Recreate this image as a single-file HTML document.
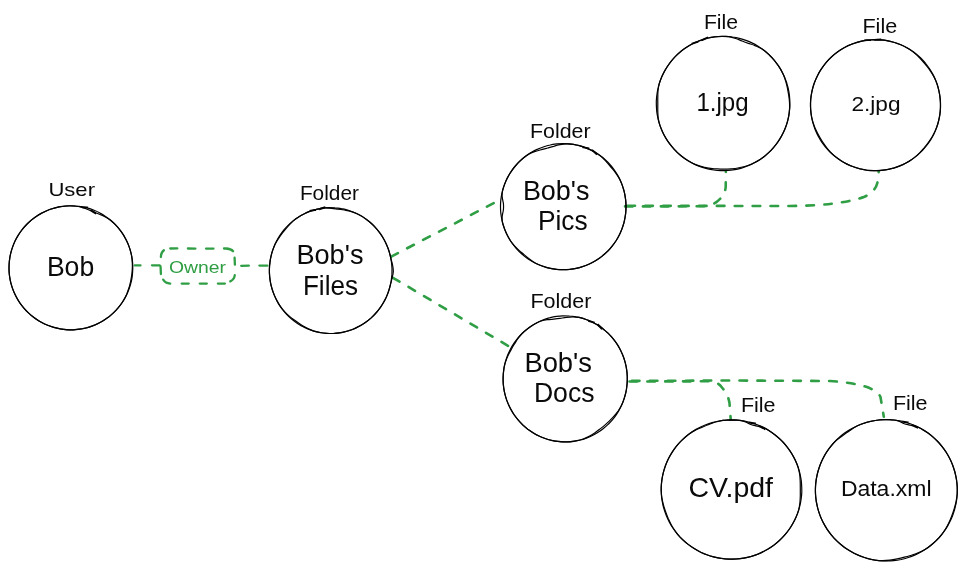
<!DOCTYPE html>
<html lang="en">
<head>
<meta charset="utf-8">
<title>Bob's Files graph</title>
<style>
  html, body { margin: 0; padding: 0; background: #ffffff; }
  body { width: 967px; height: 570px; overflow: hidden; }
  svg { display: block; will-change: transform; }
  text { font-family: "Liberation Sans", sans-serif; fill: #0a0a0a; }
  .node ellipse, .node path { fill: none; stroke: #000000; stroke-width: 1.2; }
  .edge { fill: none; stroke: #2f9e44; stroke-width: 2.6; stroke-dasharray: 7.6 10.4; stroke-linecap: round; stroke-linejoin: round; }
  text.owner { fill: #2f9e44; }
</style>
</head>
<body>
<svg width="967" height="570" viewBox="0 0 967 570">
  <rect x="0" y="0" width="967" height="570" fill="#ffffff"/>
  <g class="edge">
    <g stroke-dasharray="none" stroke-width="2.3">
      <path d="M134.9 265.4 L140.5 265.4"/>
      <path d="M152 265.3 L159.6 265.3 Q160.6 265.6 160.6 267 L160.9 274"/>
      <path d="M241.2 265.8 L248.8 265.7"/>
      <path d="M259.4 265.6 L267.5 265.6"/>
      <path d="M170.3 248.5 L177.3 248.4"/>
      <path d="M187.9 248.5 L195.4 248.6"/>
      <path d="M206 248.6 L213.5 248.6"/>
      <path d="M224 248.5 L226 248.5 Q231 248.7 233.1 251.2"/>
      <path d="M234.6 257.7 L234.9 264.7"/>
      <path d="M234.8 275.2 Q234.2 279.6 230.3 281.4"/>
      <path d="M224.9 283.6 L217.9 283.6"/>
      <path d="M206.8 283.6 L199.8 283.6"/>
      <path d="M188.7 283.6 L181.7 283.6"/>
      <path d="M170.2 283.6 Q165.4 283.2 163.2 279.6"/>
      <path d="M160.9 257 Q161 252.4 163.9 250.3"/>
    </g>
    <path d="M391.2 256.6 L495.4 202.2"/>
    <path d="M393 277.8 L508 345.8"/>
    <path d="M625 206.4 L702 206.3 Q712 206 717.5 201.2 Q725 195.5 725.7 187 L725.9 171.6" stroke-dasharray="7.6 10.31"/>
    <path d="M625 205.8 L790 206 C820 205.8 848 203 864.5 196.7 C872 193.5 877 188 877.9 180 L878.7 171.6" stroke-dashoffset="-2.4" stroke-dasharray="7.6 10.29"/>
    <path d="M629.5 381.5 L711 381.3 Q718.5 382.2 722 387.6 Q728 394 729.5 403 L730.7 419.4" stroke-dasharray="7.6 10.24"/>
    <path d="M629.5 380.9 L730 380.5 L830 381 Q875 384 880.5 397 L883.8 416.8" stroke-dashoffset="-2.4" stroke-dasharray="7.6 10.33"/>
  </g>
  <g class="node">
    <path d="M81.5 207.5 C82.6 207.6 85.9 207.7 88.0 208.2 C90.1 208.7 92.1 209.5 94.1 210.3 C96.1 211.1 98.1 212.0 100.0 213.1 C101.9 214.1 103.7 215.2 105.5 216.4 C107.3 217.6 109.0 218.9 110.7 220.3 C112.3 221.7 113.9 223.2 115.4 224.7 C116.9 226.3 118.4 227.9 119.7 229.6 C121.0 231.3 122.3 233.1 123.4 234.9 C124.5 236.8 125.6 238.7 126.5 240.6 C127.5 242.6 128.3 244.6 129.1 246.6 C129.8 248.6 130.4 250.7 131.0 252.8 C131.5 254.9 131.9 257.0 132.2 259.2 C132.5 261.3 132.7 263.5 132.8 265.6 C132.8 267.8 132.8 270.0 132.6 272.1 C132.5 274.3 132.2 276.4 131.9 278.6 C131.5 280.7 131.0 282.8 130.4 284.9 C129.8 287.0 129.1 289.0 128.3 291.0 C127.5 293.0 126.6 295.0 125.6 296.9 C124.5 298.8 123.4 300.7 122.2 302.5 C121.0 304.3 119.7 306.0 118.3 307.7 C116.9 309.3 115.5 310.9 113.9 312.4 C112.3 313.9 110.7 315.3 109.0 316.7 C107.3 318.0 105.5 319.2 103.7 320.4 C101.9 321.5 100.0 322.6 98.0 323.5 C96.1 324.5 94.1 325.3 92.1 326.1 C90.0 326.8 88.0 327.4 85.9 328.0 C83.8 328.5 81.7 328.9 79.5 329.2 C77.4 329.5 75.2 329.7 73.1 329.8 C70.9 329.8 68.7 329.8 66.6 329.6 C64.4 329.5 62.3 329.2 60.2 328.9 C58.0 328.5 55.9 328.0 53.8 327.4 C51.8 326.8 49.7 326.1 47.7 325.3 C45.7 324.5 43.7 323.6 41.8 322.5 C39.9 321.5 38.1 320.4 36.3 319.2 C34.5 318.0 32.8 316.7 31.1 315.3 C29.5 313.9 27.9 312.4 26.4 310.9 C24.9 309.3 23.4 307.7 22.1 306.0 C20.8 304.3 19.5 302.5 18.4 300.7 C17.3 298.8 16.2 296.9 15.3 295.0 C14.3 293.0 13.5 291.0 12.7 289.0 C12.0 287.0 11.4 284.9 10.8 282.8 C10.3 280.7 9.9 278.6 9.6 276.4 C9.3 274.3 9.1 272.1 9.0 270.0 C9.0 267.8 9.0 265.6 9.2 263.5 C9.3 261.3 9.6 259.2 9.9 257.0 C10.3 254.9 10.8 252.8 11.4 250.7 C12.0 248.6 12.7 246.6 13.5 244.6 C14.3 242.6 15.2 240.6 16.2 238.7 C17.3 236.8 18.4 234.9 19.6 233.1 C20.8 231.3 22.1 229.6 23.5 227.9 C24.9 226.3 26.3 224.7 27.9 223.2 C29.5 221.7 31.1 220.3 32.8 218.9 C34.5 217.6 36.3 216.4 38.1 215.2 C39.9 214.1 41.8 213.0 43.8 212.1 C45.7 211.1 47.7 210.3 49.7 209.5 C51.8 208.8 53.8 208.2 55.9 207.6 C58.0 207.1 60.1 206.7 62.3 206.4 C64.4 206.1 66.6 205.9 68.7 205.8 C70.9 205.8 73.1 205.8 75.2 206.0 C77.4 206.1 79.5 206.5 81.6 206.7 C83.8 207.0 87.1 207.2 88.2 207.3"/>
    <path d="M90.8 209.8 C91.8 210.3 94.5 212.0 96.4 213.0 C98.3 213.9 100.4 214.5 102.3 215.4 C104.2 216.4 106.2 217.3 108.0 218.5 C109.8 219.6 111.5 221.0 113.1 222.5 C114.7 223.9 116.2 225.5 117.6 227.1 C119.0 228.8 120.4 230.5 121.6 232.2 C122.8 234.0 124.0 235.9 125.0 237.7 C126.1 239.6 127.0 241.6 127.9 243.6 C128.7 245.6 129.5 247.6 130.1 249.7 C130.7 251.7 131.2 253.9 131.6 256.0 C132.0 258.1 132.2 260.3 132.3 262.4 C132.4 264.6 132.4 266.7 132.3 268.9 C132.2 271.0 132.0 273.2 131.7 275.3 C131.4 277.4 131.0 279.5 130.6 281.6 C130.1 283.7 129.6 285.8 129.0 287.8 C128.3 289.9 127.6 291.9 126.8 293.9 C125.9 295.9 125.0 297.8 123.9 299.7 C122.8 301.6 121.6 303.4 120.3 305.1 C119.0 306.8 117.6 308.5 116.2 310.1 C114.7 311.7 113.1 313.2 111.5 314.6 C109.9 316.0 108.2 317.3 106.4 318.6 C104.6 319.8 102.8 321.0 100.9 322.0 C99.0 323.1 97.1 324.0 95.1 324.9 C93.1 325.7 91.1 326.5 89.0 327.1 C86.9 327.7 84.8 328.2 82.7 328.7 C80.6 329.1 78.4 329.4 76.3 329.6 C74.1 329.8 72.0 329.8 69.8 329.8 C67.7 329.8 65.5 329.6 63.4 329.3 C61.2 329.1 59.1 328.7 57.0 328.2 C54.9 327.7 52.8 327.1 50.7 326.4 C48.7 325.7 46.7 324.9 44.7 324.0 C42.8 323.1 40.9 322.1 39.0 320.9 C37.2 319.8 35.4 318.6 33.6 317.3 C31.9 316.0 30.3 314.6 28.7 313.1 C27.1 311.7 25.6 310.1 24.2 308.5 C22.8 306.8 21.4 305.1 20.2 303.4 C19.0 301.6 17.8 299.7 16.8 297.9 C15.7 296.0 14.8 294.0 13.9 292.0 C13.1 290.0 12.3 288.0 11.7 285.9 C11.1 283.9 10.5 281.8 10.1 279.6 C9.7 277.5 9.4 275.4 9.2 273.2 C9.0 271.1 9.0 268.9 9.0 266.7 C9.0 264.6 9.2 262.4 9.5 260.2 C9.7 258.1 10.1 256.0 10.6 253.9 C11.1 251.7 11.7 249.7 12.4 247.6 C13.1 245.6 13.9 243.6 14.8 241.6 C15.7 239.6 16.7 237.7 17.8 235.9 C19.0 234.0 20.2 232.2 21.5 230.5 C22.8 228.8 24.2 227.1 25.6 225.5 C27.1 223.9 28.7 222.4 30.3 221.0 C31.9 219.6 33.6 218.3 35.4 217.0 C37.2 215.8 39.0 214.6 40.9 213.6 C42.8 212.5 44.7 211.6 46.7 210.7 C48.7 209.9 50.7 209.1 52.8 208.5 C54.9 207.9 57.0 207.4 59.1 206.9 C61.2 206.5 63.4 206.2 65.5 206.0 C67.7 205.8 69.8 205.7 72.0 205.8 C74.1 205.9 76.3 206.1 78.4 206.5 C80.5 206.9 82.6 207.6 84.6 208.3 C86.6 209.0 88.7 209.7 90.6 210.6 C92.5 211.6 95.1 213.4 96.0 214.0"/>
    <path d="M309.5 210.7 C310.6 210.5 313.8 209.9 315.9 209.5 C318.0 209.1 320.1 208.5 322.2 208.2 C324.3 207.9 326.4 207.7 328.6 207.6 C330.7 207.6 332.8 207.6 335.0 207.8 C337.1 207.9 339.2 208.2 341.3 208.6 C343.4 208.9 345.5 209.4 347.6 210.0 C349.6 210.6 351.7 211.4 353.7 212.2 C355.6 213.0 357.6 213.9 359.5 215.0 C361.4 216.0 363.2 217.1 365.0 218.4 C366.7 219.6 368.5 220.9 370.1 222.3 C371.7 223.7 373.3 225.2 374.8 226.8 C376.3 228.4 377.7 230.1 379.0 231.8 C380.3 233.5 381.6 235.3 382.7 237.2 C383.8 239.1 384.9 241.0 385.8 243.0 C386.7 244.9 387.6 247.0 388.3 249.0 C389.0 251.1 389.7 253.2 390.2 255.3 C390.7 257.4 391.1 259.6 391.4 261.8 C391.7 264.0 391.9 266.2 392.0 268.4 C392.0 270.5 392.0 272.8 391.9 274.9 C391.7 277.1 391.4 279.3 391.1 281.5 C390.7 283.6 390.2 285.8 389.6 287.9 C389.0 290.0 388.3 292.1 387.5 294.1 C386.7 296.2 385.8 298.2 384.8 300.1 C383.8 302.0 382.7 303.9 381.5 305.8 C380.3 307.6 379.0 309.3 377.7 311.0 C376.3 312.7 374.8 314.3 373.3 315.8 C371.7 317.4 370.1 318.8 368.4 320.2 C366.8 321.5 365.0 322.8 363.2 323.9 C361.4 325.1 359.5 326.2 357.6 327.1 C355.7 328.1 353.7 329.0 351.7 329.7 C349.7 330.5 347.6 331.1 345.5 331.6 C343.5 332.2 341.3 332.6 339.2 332.9 C337.1 333.2 335.0 333.4 332.8 333.5 C330.7 333.5 328.6 333.5 326.4 333.3 C324.3 333.2 322.2 332.9 320.1 332.5 C318.0 332.2 315.9 331.7 313.8 331.1 C311.8 330.5 309.7 329.7 307.7 328.9 C305.8 328.1 303.8 327.2 301.9 326.1 C300.0 325.1 298.2 324.0 296.4 322.7 C294.7 321.5 292.9 320.2 291.3 318.8 C289.7 317.4 288.1 315.9 286.6 314.3 C285.1 312.7 283.7 311.0 282.4 309.3 C281.1 307.6 279.8 305.8 278.7 303.9 C277.6 302.0 276.5 300.1 275.6 298.1 C274.7 296.2 273.8 294.1 273.1 292.1 C272.4 290.0 271.7 287.9 271.2 285.8 C270.7 283.7 270.3 281.5 270.0 279.3 C269.7 277.1 269.5 274.9 269.4 272.7 C269.4 270.6 269.4 268.3 269.5 266.2 C269.7 264.0 270.0 261.8 270.3 259.6 C270.7 257.5 271.2 255.3 271.8 253.2 C272.4 251.1 273.1 249.0 273.9 247.0 C274.7 244.9 275.6 242.9 276.6 241.0 C277.6 239.1 278.7 237.2 279.9 235.3 C281.1 233.5 282.4 231.8 283.7 230.1 C285.1 228.4 286.6 226.8 288.1 225.3 C289.7 223.7 291.3 222.3 293.0 220.9 C294.6 219.6 296.4 218.3 298.2 217.2 C300.0 216.0 301.9 214.9 303.8 214.0 C305.7 213.0 307.7 212.0 309.7 211.4 C311.8 210.8 315.0 210.5 316.1 210.3"/>
    <path d="M319.2 209.6 C320.2 209.3 323.3 208.2 325.4 207.9 C327.5 207.7 329.6 208.1 331.8 208.3 C333.9 208.5 335.9 208.9 338.0 209.2 C340.1 209.4 342.2 209.7 344.3 210.0 C346.4 210.4 348.5 210.7 350.6 211.3 C352.6 211.8 354.7 212.6 356.6 213.5 C358.6 214.4 360.4 215.5 362.3 216.6 C364.1 217.7 365.9 219.0 367.6 220.3 C369.3 221.6 370.9 223.0 372.5 224.5 C374.1 226.0 375.6 227.6 377.0 229.3 C378.4 230.9 379.7 232.6 380.9 234.4 C382.1 236.2 383.3 238.1 384.3 240.0 C385.3 241.9 386.3 243.9 387.1 246.0 C388.0 248.0 388.7 250.0 389.3 252.1 C389.9 254.2 390.4 256.4 390.9 258.5 C391.4 260.7 392.2 262.8 392.6 265.0 C393.0 267.2 393.4 269.5 393.3 271.7 C393.2 273.9 392.5 276.1 392.0 278.3 C391.5 280.5 391.0 282.6 390.4 284.7 C389.9 286.8 389.4 289.0 388.7 291.0 C388.0 293.1 387.2 295.2 386.3 297.2 C385.4 299.1 384.3 301.1 383.2 303.0 C382.1 304.9 380.9 306.7 379.7 308.4 C378.4 310.2 377.0 311.9 375.5 313.5 C374.1 315.1 372.5 316.6 370.9 318.1 C369.3 319.5 367.6 320.9 365.9 322.1 C364.1 323.4 362.3 324.5 360.4 325.6 C358.6 326.7 356.6 327.6 354.7 328.5 C352.7 329.4 350.7 330.1 348.6 330.7 C346.6 331.4 344.5 331.9 342.4 332.3 C340.3 332.8 338.2 333.1 336.0 333.3 C333.9 333.5 331.8 333.5 329.6 333.5 C327.5 333.5 325.3 333.3 323.2 333.0 C321.1 332.8 319.0 332.4 316.9 331.9 C314.8 331.4 312.8 330.7 310.8 329.9 C308.8 329.1 306.9 328.2 305.0 327.1 C303.1 326.1 301.3 325.0 299.6 323.8 C297.8 322.6 296.0 321.4 294.3 320.1 C292.6 318.8 290.9 317.5 289.3 316.1 C287.7 314.7 286.1 313.3 284.6 311.7 C283.2 310.1 281.8 308.4 280.5 306.6 C279.2 304.9 278.1 303.0 277.1 301.1 C276.0 299.2 275.1 297.2 274.3 295.1 C273.4 293.1 272.7 291.1 272.1 289.0 C271.5 286.9 270.9 284.7 270.5 282.6 C270.1 280.4 269.8 278.2 269.6 276.0 C269.4 273.9 269.4 271.6 269.4 269.5 C269.4 267.3 269.6 265.1 269.9 262.9 C270.1 260.7 270.5 258.5 271.0 256.4 C271.5 254.3 272.0 252.1 272.7 250.1 C273.5 248.0 274.3 245.9 275.2 244.0 C276.2 242.0 277.4 240.2 278.6 238.4 C279.7 236.6 281.0 234.8 282.3 233.1 C283.7 231.4 285.0 229.8 286.4 228.1 C287.8 226.5 289.3 224.9 290.8 223.4 C292.3 221.9 293.9 220.4 295.6 219.1 C297.3 217.8 299.1 216.6 301.0 215.5 C302.8 214.4 304.8 213.5 306.7 212.6 C308.7 211.7 310.7 211.0 312.8 210.4 C314.8 209.7 316.9 209.3 319.0 208.8 C321.1 208.2 324.2 207.2 325.3 206.9"/>
    <path d="M582.4 147.4 C583.5 147.7 586.7 148.3 588.8 149.1 C590.8 149.8 592.7 150.9 594.6 152.0 C596.5 153.1 598.4 154.4 600.1 155.6 C601.9 156.9 603.6 158.3 605.2 159.8 C606.9 161.3 608.4 162.8 609.9 164.5 C611.3 166.1 612.7 167.8 614.0 169.6 C615.3 171.4 616.5 173.2 617.6 175.1 C618.7 177.0 619.7 179.0 620.6 181.0 C621.5 183.0 622.3 185.1 622.9 187.2 C623.6 189.3 624.2 191.4 624.6 193.5 C625.1 195.7 625.4 197.9 625.7 200.1 C625.9 202.2 626.0 204.5 626.0 206.6 C626.0 208.8 625.9 211.1 625.7 213.2 C625.4 215.4 625.1 217.6 624.6 219.8 C624.2 221.9 623.6 224.0 622.9 226.1 C622.3 228.2 621.5 230.3 620.6 232.3 C619.7 234.3 618.7 236.3 617.6 238.2 C616.5 240.1 615.3 241.9 614.0 243.7 C612.7 245.5 611.3 247.2 609.9 248.8 C608.4 250.5 606.9 252.0 605.2 253.5 C603.6 255.0 601.9 256.4 600.1 257.7 C598.4 258.9 596.5 260.2 594.6 261.3 C592.7 262.4 590.8 263.4 588.8 264.2 C586.8 265.1 584.7 265.9 582.6 266.6 C580.6 267.3 578.4 267.9 576.3 268.3 C574.2 268.8 572.0 269.1 569.8 269.4 C567.6 269.6 565.4 269.7 563.2 269.7 C561.1 269.7 558.9 269.6 556.7 269.4 C554.5 269.1 552.3 268.8 550.2 268.3 C548.1 267.9 545.9 267.3 543.9 266.6 C541.8 265.9 539.7 265.1 537.7 264.2 C535.7 263.4 533.8 262.4 531.9 261.3 C530.0 260.2 528.1 258.9 526.4 257.7 C524.6 256.4 522.9 255.0 521.3 253.5 C519.6 252.0 518.1 250.5 516.6 248.8 C515.2 247.2 513.8 245.5 512.5 243.7 C511.2 241.9 510.0 240.1 508.9 238.2 C507.8 236.3 506.8 234.3 505.9 232.3 C505.0 230.3 504.2 228.2 503.6 226.1 C502.9 224.0 502.3 221.9 501.9 219.8 C501.4 217.6 501.1 215.4 500.8 213.2 C500.6 211.1 500.5 208.8 500.5 206.6 C500.5 204.5 500.6 202.2 500.8 200.1 C501.1 197.9 501.4 195.7 501.9 193.5 C502.3 191.4 502.9 189.3 503.6 187.2 C504.2 185.1 505.0 183.0 505.9 181.0 C506.8 179.0 507.8 177.0 508.9 175.1 C510.0 173.2 511.2 171.4 512.5 169.6 C513.8 167.8 515.2 166.1 516.6 164.5 C518.1 162.8 519.6 161.3 521.3 159.8 C522.9 158.3 524.6 156.9 526.4 155.6 C528.1 154.4 530.0 153.1 531.9 152.0 C533.8 150.9 535.7 149.9 537.7 149.1 C539.7 148.2 541.8 147.4 543.9 146.7 C545.9 146.0 548.1 145.4 550.2 145.0 C552.3 144.5 554.5 144.2 556.7 143.9 C558.9 143.7 561.1 143.6 563.2 143.6 C565.4 143.6 567.6 143.7 569.8 143.9 C572.0 144.2 574.2 144.5 576.3 145.0 C578.4 145.4 580.5 146.2 582.6 146.7 C584.8 147.2 588.1 147.9 589.2 148.2"/>
    <path d="M592.2 149.6 C593.0 150.3 595.7 152.4 597.4 153.8 C599.2 155.1 601.0 156.3 602.6 157.8 C604.2 159.3 605.7 160.9 607.1 162.6 C608.6 164.2 609.9 165.9 611.3 167.5 C612.7 169.2 614.1 170.8 615.4 172.6 C616.7 174.4 618.0 176.2 619.1 178.1 C620.2 180.0 621.0 182.0 621.8 184.1 C622.6 186.1 623.3 188.2 623.9 190.3 C624.4 192.5 624.9 194.6 625.2 196.8 C625.6 199.0 625.8 201.2 625.9 203.4 C626.0 205.5 626.0 207.8 625.9 209.9 C625.8 212.1 625.6 214.3 625.2 216.5 C624.9 218.7 624.4 220.8 623.9 223.0 C623.3 225.1 622.6 227.2 621.8 229.2 C621.0 231.3 620.2 233.3 619.2 235.3 C618.2 237.2 617.1 239.1 615.9 241.0 C614.7 242.8 613.4 244.6 612.0 246.3 C610.6 248.0 609.2 249.7 607.6 251.2 C606.1 252.8 604.4 254.3 602.7 255.6 C601.0 257.0 599.3 258.3 597.4 259.5 C595.6 260.7 593.7 261.8 591.7 262.8 C589.8 263.8 587.8 264.7 585.7 265.5 C583.7 266.3 581.6 267.0 579.5 267.6 C577.4 268.1 575.2 268.6 573.1 268.9 C570.9 269.3 568.7 269.5 566.5 269.6 C564.4 269.7 562.1 269.7 560.0 269.6 C557.8 269.5 555.6 269.3 553.4 268.9 C551.3 268.6 549.1 268.1 547.0 267.6 C544.9 267.0 542.8 266.3 540.8 265.5 C538.7 264.7 536.7 263.8 534.8 262.8 C532.9 261.7 531.1 260.3 529.4 259.0 C527.7 257.7 526.0 256.3 524.4 254.9 C522.7 253.5 521.1 252.1 519.4 250.7 C517.8 249.2 516.1 247.8 514.7 246.2 C513.2 244.6 511.8 242.8 510.6 241.0 C509.4 239.2 508.3 237.2 507.3 235.3 C506.3 233.3 505.5 231.3 504.7 229.2 C503.9 227.2 503.1 225.1 502.6 223.0 C502.2 220.8 502.0 218.6 502.2 216.4 C502.3 214.2 503.2 211.9 503.4 209.8 C503.6 207.7 503.6 205.6 503.4 203.5 C503.2 201.4 502.3 199.1 502.2 196.9 C502.0 194.7 502.2 192.5 502.6 190.3 C503.1 188.2 503.9 186.1 504.7 184.1 C505.5 182.0 506.3 180.0 507.3 178.0 C508.3 176.1 509.4 174.2 510.6 172.3 C511.8 170.5 513.1 168.7 514.5 167.0 C515.9 165.3 517.3 163.6 518.9 162.1 C520.4 160.5 522.0 159.0 523.8 157.7 C525.5 156.3 527.3 155.0 529.2 153.9 C531.1 152.9 533.2 152.1 535.2 151.4 C537.3 150.6 539.4 150.1 541.4 149.6 C543.5 149.0 545.6 148.5 547.6 148.0 C549.7 147.4 551.7 146.8 553.7 146.3 C555.8 145.7 557.9 145.1 560.0 144.7 C562.1 144.3 564.3 143.9 566.5 143.9 C568.7 143.8 570.9 144.1 573.1 144.4 C575.2 144.7 577.4 145.2 579.5 145.7 C581.6 146.3 583.7 147.0 585.7 147.8 C587.8 148.6 589.9 149.3 591.7 150.5 C593.6 151.6 595.9 154.0 596.8 154.8"/>
    <path d="M588.2 321.1 C589.2 321.5 592.4 322.3 594.4 323.2 C596.3 324.1 598.1 325.4 599.9 326.6 C601.7 327.8 603.5 329.1 605.1 330.6 C606.8 332.0 608.4 333.5 609.9 335.1 C611.4 336.6 612.8 338.3 614.1 340.0 C615.5 341.8 616.7 343.6 617.9 345.4 C619.0 347.3 620.1 349.2 621.0 351.2 C622.0 353.2 622.8 355.2 623.6 357.3 C624.3 359.3 624.9 361.5 625.5 363.6 C626.0 365.7 626.4 367.9 626.7 370.1 C627.0 372.3 627.2 374.5 627.3 376.6 C627.3 378.8 627.3 381.1 627.1 383.2 C627.0 385.4 626.7 387.6 626.4 389.8 C626.0 392.0 625.5 394.1 624.9 396.2 C624.3 398.3 623.6 400.4 622.8 402.5 C622.0 404.5 621.0 406.5 620.0 408.5 C619.0 410.4 617.9 412.3 616.7 414.1 C615.5 415.9 614.2 417.7 612.8 419.4 C611.4 421.1 609.9 422.7 608.3 424.2 C606.8 425.7 605.1 427.2 603.4 428.5 C601.7 429.9 599.9 431.2 598.1 432.3 C596.3 433.5 594.4 434.6 592.4 435.5 C590.5 436.5 588.5 437.3 586.4 438.1 C584.4 438.8 582.3 439.5 580.2 440.0 C578.1 440.6 576.0 441.0 573.8 441.3 C571.7 441.6 569.5 441.8 567.4 441.9 C565.2 441.9 563.0 441.9 560.9 441.7 C558.7 441.6 556.5 441.3 554.4 440.9 C552.3 440.6 550.2 440.1 548.1 439.5 C546.0 438.9 543.9 438.1 541.9 437.3 C539.9 436.5 538.0 435.6 536.0 434.5 C534.1 433.5 532.3 432.3 530.5 431.1 C528.7 429.9 526.9 428.6 525.3 427.1 C523.6 425.7 522.0 424.2 520.5 422.6 C519.0 421.1 517.6 419.4 516.3 417.7 C514.9 415.9 513.7 414.1 512.5 412.3 C511.4 410.4 510.3 408.5 509.4 406.5 C508.4 404.5 507.6 402.5 506.8 400.4 C506.1 398.4 505.5 396.2 504.9 394.1 C504.4 392.0 504.0 389.8 503.7 387.6 C503.4 385.4 503.2 383.2 503.1 381.1 C503.1 378.9 503.1 376.6 503.3 374.5 C503.4 372.3 503.7 370.1 504.0 367.9 C504.4 365.7 504.9 363.6 505.5 361.5 C506.1 359.4 506.8 357.3 507.6 355.2 C508.4 353.2 509.4 351.2 510.4 349.2 C511.4 347.3 512.5 345.4 513.7 343.6 C514.9 341.8 516.2 340.0 517.6 338.3 C519.0 336.6 520.5 335.0 522.1 333.5 C523.6 332.0 525.3 330.5 527.0 329.2 C528.7 327.8 530.5 326.5 532.3 325.4 C534.1 324.2 536.0 323.1 538.0 322.2 C539.9 321.2 541.9 320.4 544.0 319.6 C546.0 318.9 548.1 318.2 550.2 317.7 C552.3 317.1 554.4 316.7 556.6 316.4 C558.7 316.1 560.9 315.9 563.0 315.8 C565.2 315.8 567.4 315.8 569.5 316.0 C571.7 316.1 573.9 316.4 576.0 316.8 C578.1 317.1 580.2 317.6 582.3 318.2 C584.4 318.8 586.4 319.7 588.5 320.4 C590.5 321.1 593.8 322.0 594.8 322.3"/>
    <path d="M597.7 324.0 C598.5 324.8 600.9 327.0 602.6 328.5 C604.2 330.0 606.0 331.2 607.6 332.7 C609.1 334.2 610.6 335.8 612.1 337.5 C613.5 339.1 614.8 340.9 616.1 342.7 C617.3 344.5 618.5 346.4 619.5 348.3 C620.6 350.2 621.5 352.2 622.4 354.2 C623.2 356.2 624.0 358.3 624.6 360.4 C625.2 362.5 625.7 364.7 626.2 366.8 C626.6 369.0 626.9 371.2 627.1 373.4 C627.3 375.5 627.3 377.8 627.3 380.0 C627.3 382.1 627.1 384.4 626.8 386.5 C626.6 388.7 626.2 390.9 625.7 393.0 C625.2 395.2 624.6 397.3 623.9 399.4 C623.2 401.5 622.4 403.5 621.4 405.5 C620.5 407.4 619.3 409.3 618.1 411.1 C616.8 412.9 615.4 414.6 614.0 416.2 C612.6 417.8 611.0 419.3 609.5 420.8 C608.0 422.3 606.4 423.7 604.8 425.1 C603.2 426.5 601.5 427.8 599.9 429.1 C598.2 430.4 596.5 431.7 594.7 432.9 C593.0 434.1 591.1 435.3 589.2 436.3 C587.3 437.3 585.3 438.3 583.3 439.0 C581.3 439.7 579.2 440.3 577.0 440.7 C574.9 441.2 572.8 441.5 570.6 441.7 C568.5 441.9 566.3 441.9 564.1 441.9 C562.0 441.9 559.8 441.7 557.6 441.4 C555.5 441.2 553.3 440.8 551.2 440.3 C549.1 439.8 547.0 439.2 545.0 438.5 C542.9 437.7 540.9 436.9 539.0 436.0 C537.0 435.1 535.1 434.0 533.2 432.9 C531.4 431.8 529.6 430.5 527.8 429.2 C526.1 427.9 524.4 426.5 522.8 425.0 C521.3 423.5 519.8 421.9 518.3 420.2 C516.9 418.6 515.6 416.8 514.3 415.0 C513.1 413.2 511.9 411.3 510.9 409.4 C509.8 407.5 508.9 405.5 508.0 403.5 C507.2 401.5 506.4 399.4 505.8 397.3 C505.2 395.2 504.7 393.0 504.2 390.9 C503.8 388.7 503.5 386.5 503.3 384.3 C503.1 382.2 503.1 379.9 503.1 377.7 C503.1 375.6 503.3 373.3 503.6 371.2 C503.8 369.0 504.2 366.8 504.7 364.7 C505.2 362.5 505.9 360.4 506.8 358.4 C507.6 356.4 508.6 354.4 509.6 352.5 C510.6 350.6 511.7 348.7 512.7 346.8 C513.8 345.0 514.9 343.1 516.1 341.3 C517.3 339.5 518.5 337.6 519.9 336.0 C521.3 334.3 522.8 332.7 524.5 331.3 C526.1 329.8 527.8 328.5 529.6 327.2 C531.4 325.9 533.2 324.7 535.1 323.7 C537.0 322.7 539.0 321.7 541.0 321.0 C543.1 320.4 545.3 320.0 547.4 319.7 C549.5 319.4 551.7 319.3 553.8 319.1 C555.9 318.9 557.9 318.7 560.0 318.4 C562.1 318.1 564.1 317.6 566.3 317.4 C568.4 317.1 570.6 316.8 572.7 316.8 C574.9 316.8 577.1 317.0 579.2 317.4 C581.3 317.8 583.4 318.5 585.4 319.2 C587.5 320.0 589.5 320.8 591.4 321.7 C593.4 322.6 595.4 323.5 597.2 324.8 C598.9 326.1 601.1 328.7 601.9 329.4"/>
    <path d="M691.5 43.6 C692.6 43.2 695.9 42.0 698.1 41.2 C700.3 40.4 702.5 39.5 704.7 38.9 C706.9 38.3 709.2 37.7 711.5 37.3 C713.8 36.9 716.1 36.6 718.4 36.5 C720.8 36.3 723.1 36.3 725.4 36.3 C727.8 36.4 730.1 36.6 732.4 37.0 C734.7 37.3 737.0 37.7 739.3 38.3 C741.5 38.9 743.8 39.6 745.9 40.4 C748.1 41.2 750.3 42.1 752.4 43.1 C754.5 44.1 756.5 45.3 758.5 46.5 C760.5 47.8 762.4 49.1 764.2 50.5 C766.1 52.0 767.8 53.5 769.5 55.2 C771.2 56.8 772.8 58.5 774.3 60.3 C775.8 62.1 777.2 64.0 778.5 65.9 C779.8 67.9 781.0 69.9 782.1 72.0 C783.2 74.0 784.2 76.2 785.0 78.3 C785.9 80.5 786.7 82.7 787.3 85.0 C788.0 87.2 788.5 89.5 788.9 91.8 C789.3 94.1 789.6 96.5 789.7 98.8 C789.9 101.1 789.9 103.5 789.9 105.8 C789.8 108.2 789.6 110.5 789.2 112.9 C788.9 115.2 788.5 117.5 787.9 119.8 C787.4 122.0 786.7 124.3 785.9 126.5 C785.1 128.7 784.2 130.9 783.1 133.0 C782.1 135.1 781.0 137.1 779.7 139.1 C778.5 141.1 777.2 143.0 775.7 144.9 C774.3 146.7 772.8 148.5 771.2 150.2 C769.5 151.9 767.8 153.5 766.0 155.0 C764.3 156.5 762.4 157.9 760.5 159.2 C758.5 160.5 756.5 161.7 754.5 162.8 C752.4 163.9 750.3 164.9 748.1 165.8 C746.0 166.7 743.7 167.5 741.5 168.1 C739.3 168.7 737.0 169.3 734.7 169.7 C732.4 170.1 730.1 170.4 727.8 170.5 C725.4 170.7 723.1 170.7 720.8 170.7 C718.4 170.6 716.1 170.4 713.8 170.0 C711.5 169.7 709.2 169.3 706.9 168.7 C704.7 168.1 702.4 167.4 700.3 166.6 C698.1 165.8 695.9 164.9 693.8 163.9 C691.7 162.9 689.7 161.7 687.7 160.5 C685.7 159.2 683.8 157.9 682.0 156.5 C680.1 155.0 678.4 153.5 676.7 151.8 C675.0 150.2 673.4 148.5 671.9 146.7 C670.4 144.9 669.0 143.0 667.7 141.1 C666.4 139.1 665.2 137.1 664.1 135.0 C663.0 133.0 662.0 130.8 661.2 128.7 C660.3 126.5 659.5 124.3 658.9 122.0 C658.2 119.8 657.7 117.5 657.3 115.2 C656.9 112.9 656.6 110.5 656.5 108.2 C656.3 105.9 656.3 103.5 656.3 101.2 C656.4 98.8 656.6 96.5 657.0 94.1 C657.3 91.8 657.7 89.5 658.3 87.2 C658.8 85.0 659.5 82.7 660.3 80.5 C661.1 78.3 662.0 76.1 663.1 74.0 C664.1 71.9 665.2 69.9 666.5 67.9 C667.7 65.9 669.0 64.0 670.5 62.1 C671.9 60.3 673.4 58.5 675.0 56.8 C676.7 55.1 678.4 53.5 680.2 52.0 C681.9 50.5 683.8 49.1 685.7 47.8 C687.7 46.5 689.6 45.1 691.7 44.2 C693.8 43.2 697.3 42.3 698.4 41.9"/>
    <path d="M701.6 40.6 C702.7 40.2 705.8 38.7 708.1 38.0 C710.3 37.4 712.6 37.1 715.0 36.8 C717.3 36.5 719.6 36.3 721.9 36.3 C724.3 36.3 726.6 36.3 728.9 36.7 C731.2 37.1 733.5 37.8 735.7 38.5 C737.9 39.2 739.9 40.2 742.1 41.0 C744.2 41.8 746.3 42.6 748.5 43.4 C750.6 44.1 752.9 44.7 755.0 45.6 C757.1 46.5 759.4 47.4 761.3 48.6 C763.3 49.8 765.2 51.3 766.9 52.8 C768.7 54.3 770.4 56.0 772.0 57.7 C773.5 59.4 775.0 61.2 776.4 63.1 C777.8 64.9 779.2 66.9 780.4 68.9 C781.5 70.9 782.6 73.0 783.5 75.1 C784.5 77.3 785.2 79.5 785.9 81.8 C786.5 84.0 787.1 86.3 787.5 88.5 C788.0 90.8 788.4 93.1 788.7 95.4 C789.1 97.7 789.4 100.0 789.5 102.3 C789.6 104.7 789.7 107.0 789.5 109.3 C789.4 111.7 789.1 114.0 788.7 116.3 C788.2 118.6 787.7 120.9 787.0 123.1 C786.3 125.4 785.5 127.6 784.6 129.8 C783.7 131.9 782.7 134.0 781.5 136.1 C780.4 138.1 779.2 140.1 777.8 142.0 C776.5 144.0 775.0 145.8 773.5 147.6 C772.0 149.4 770.4 151.1 768.7 152.6 C767.0 154.2 765.2 155.8 763.3 157.2 C761.4 158.6 759.5 159.9 757.5 161.1 C755.5 162.3 753.4 163.3 751.3 164.2 C749.1 165.1 746.9 165.9 744.7 166.5 C742.4 167.1 740.2 167.6 737.9 168.0 C735.6 168.4 733.3 168.6 731.1 168.8 C728.8 169.0 726.5 169.1 724.2 169.1 C722.0 169.1 719.7 169.1 717.4 168.9 C715.1 168.8 712.9 168.6 710.6 168.3 C708.3 168.0 706.0 167.6 703.8 167.1 C701.5 166.5 699.3 165.9 697.1 165.1 C694.9 164.3 692.8 163.3 690.7 162.2 C688.7 161.2 686.7 159.9 684.8 158.5 C682.9 157.2 681.0 155.8 679.3 154.2 C677.5 152.7 675.8 151.0 674.2 149.3 C672.7 147.6 671.2 145.8 669.8 143.9 C668.4 142.1 667.0 140.1 665.8 138.1 C664.6 136.1 663.5 134.0 662.6 131.9 C661.6 129.8 660.7 127.6 659.9 125.4 C659.2 123.2 658.6 120.9 658.3 118.6 C657.9 116.3 657.9 113.9 657.8 111.6 C657.7 109.2 657.8 106.9 657.8 104.6 C657.8 102.3 657.7 100.1 657.8 97.8 C657.8 95.4 657.8 93.1 658.0 90.8 C658.3 88.5 658.6 86.1 659.2 83.9 C659.8 81.6 660.7 79.4 661.6 77.2 C662.5 75.1 663.5 73.0 664.7 70.9 C665.8 68.9 667.0 66.9 668.4 65.0 C669.7 63.0 671.2 61.2 672.7 59.4 C674.2 57.6 675.8 55.9 677.5 54.4 C679.2 52.8 681.0 51.2 682.9 49.8 C684.8 48.4 686.7 47.1 688.7 45.9 C690.7 44.7 692.8 43.6 694.9 42.6 C697.0 41.6 699.2 40.9 701.4 40.0 C703.5 39.1 706.8 37.6 707.9 37.1"/>
    <path d="M864.1 40.0 C865.3 40.0 868.7 39.8 871.0 39.8 C873.2 39.7 875.5 39.6 877.8 39.6 C880.0 39.7 882.3 39.9 884.5 40.2 C886.8 40.6 889.0 41.0 891.2 41.5 C893.4 42.1 895.6 42.8 897.7 43.6 C899.9 44.3 902.0 45.2 904.0 46.2 C906.0 47.2 908.0 48.4 909.9 49.6 C911.9 50.8 913.7 52.1 915.5 53.5 C917.3 54.9 919.0 56.4 920.7 58.0 C922.3 59.6 923.8 61.3 925.3 63.0 C926.7 64.8 928.1 66.6 929.4 68.5 C930.7 70.4 931.8 72.4 932.9 74.4 C934.0 76.4 934.9 78.5 935.8 80.6 C936.6 82.7 937.4 84.9 938.0 87.1 C938.6 89.3 939.1 91.5 939.5 93.8 C939.9 96.0 940.2 98.3 940.3 100.6 C940.5 102.9 940.5 105.2 940.5 107.4 C940.4 109.7 940.2 112.0 939.9 114.3 C939.6 116.5 939.1 118.8 938.6 121.0 C938.0 123.2 937.4 125.4 936.6 127.6 C935.8 129.7 934.9 131.8 933.9 133.9 C932.9 135.9 931.8 137.9 930.6 139.9 C929.4 141.8 928.1 143.7 926.7 145.5 C925.3 147.3 923.8 149.0 922.3 150.7 C920.7 152.3 919.0 153.9 917.3 155.4 C915.5 156.8 913.7 158.2 911.8 159.5 C910.0 160.8 908.0 162.0 906.0 163.0 C904.0 164.1 901.9 165.1 899.8 165.9 C897.7 166.8 895.6 167.5 893.4 168.2 C891.2 168.8 889.0 169.3 886.8 169.7 C884.6 170.1 882.3 170.4 880.0 170.5 C877.8 170.7 875.5 170.7 873.2 170.7 C871.0 170.6 868.7 170.4 866.5 170.1 C864.2 169.7 862.0 169.3 859.8 168.8 C857.6 168.2 855.4 167.5 853.3 166.7 C851.1 166.0 849.0 165.1 847.0 164.1 C845.0 163.1 843.0 161.9 841.1 160.7 C839.1 159.5 837.3 158.2 835.5 156.8 C833.7 155.4 832.0 153.9 830.3 152.3 C828.7 150.7 827.2 149.0 825.7 147.3 C824.3 145.5 822.9 143.7 821.6 141.8 C820.3 139.9 819.2 137.9 818.1 135.9 C817.0 133.9 816.1 131.8 815.2 129.7 C814.4 127.6 813.6 125.4 813.0 123.2 C812.4 121.0 811.9 118.8 811.5 116.5 C811.1 114.3 810.8 112.0 810.7 109.7 C810.5 107.4 810.5 105.1 810.5 102.9 C810.6 100.6 810.8 98.3 811.1 96.0 C811.4 93.8 811.9 91.5 812.4 89.3 C813.0 87.1 813.6 84.9 814.4 82.7 C815.2 80.6 816.1 78.5 817.1 76.4 C818.1 74.4 819.2 72.4 820.4 70.4 C821.6 68.5 822.9 66.6 824.3 64.8 C825.7 63.0 827.2 61.3 828.7 59.6 C830.3 58.0 832.0 56.4 833.7 54.9 C835.5 53.5 837.3 52.1 839.2 50.8 C841.0 49.5 843.0 48.3 845.0 47.3 C847.0 46.2 849.1 45.2 851.2 44.4 C853.3 43.5 855.4 42.8 857.6 42.1 C859.8 41.5 862.0 40.9 864.2 40.6 C866.5 40.3 869.9 40.5 871.0 40.5"/>
    <path d="M874.4 40.3 C875.5 40.2 878.9 39.8 881.2 39.8 C883.4 39.9 885.7 40.4 887.9 40.8 C890.1 41.2 892.3 41.8 894.5 42.5 C896.7 43.1 898.8 43.9 900.9 44.8 C903.0 45.7 905.0 46.7 907.0 47.8 C909.0 48.9 910.9 50.2 912.7 51.6 C914.5 52.9 916.2 54.5 917.8 56.0 C919.5 57.6 921.0 59.3 922.5 61.0 C924.0 62.6 925.4 64.4 926.8 66.2 C928.2 67.9 929.6 69.7 930.8 71.6 C932.1 73.5 933.3 75.5 934.3 77.5 C935.3 79.5 936.2 81.7 937.0 83.8 C937.7 86.0 938.3 88.2 938.8 90.4 C939.3 92.6 939.7 94.9 940.0 97.2 C940.3 99.4 940.5 101.7 940.5 104.0 C940.5 106.3 940.5 108.6 940.3 110.9 C940.1 113.1 939.7 115.4 939.3 117.7 C938.9 119.9 938.3 122.1 937.7 124.3 C937.0 126.5 936.2 128.7 935.3 130.8 C934.4 132.8 933.3 134.9 932.2 136.8 C931.0 138.8 929.7 140.6 928.3 142.5 C927.0 144.3 925.6 146.0 924.1 147.8 C922.6 149.5 921.1 151.2 919.6 152.8 C918.0 154.4 916.3 156.0 914.6 157.4 C912.8 158.8 910.9 160.1 909.0 161.3 C907.0 162.5 905.0 163.6 903.0 164.6 C900.9 165.5 898.8 166.4 896.7 167.1 C894.5 167.9 892.3 168.5 890.1 169.0 C887.9 169.5 885.7 169.9 883.4 170.2 C881.2 170.5 878.9 170.7 876.6 170.7 C874.4 170.7 872.1 170.6 869.8 170.5 C867.6 170.3 865.3 169.9 863.1 169.5 C860.9 169.1 858.7 168.5 856.5 167.8 C854.3 167.2 852.2 166.4 850.1 165.5 C848.0 164.6 846.0 163.6 844.0 162.5 C842.0 161.4 840.1 160.2 838.2 158.8 C836.4 157.5 834.6 156.1 832.9 154.6 C831.2 153.1 829.6 151.4 828.2 149.7 C826.7 147.9 825.4 146.1 824.1 144.2 C822.8 142.4 821.6 140.4 820.5 138.5 C819.3 136.6 818.2 134.6 817.2 132.6 C816.2 130.5 815.2 128.5 814.4 126.4 C813.6 124.2 812.8 122.1 812.3 119.9 C811.7 117.7 811.3 115.4 811.0 113.1 C810.7 110.9 810.5 108.6 810.5 106.3 C810.5 104.0 810.5 101.7 810.7 99.4 C810.9 97.2 811.3 94.9 811.7 92.6 C812.1 90.4 812.7 88.2 813.3 86.0 C814.0 83.8 814.8 81.6 815.7 79.5 C816.6 77.4 817.6 75.4 818.6 73.4 C819.7 71.4 821.0 69.4 822.3 67.6 C823.6 65.7 825.0 63.9 826.4 62.1 C827.9 60.4 829.5 58.8 831.2 57.2 C832.8 55.7 834.6 54.2 836.4 52.8 C838.2 51.4 840.1 50.1 842.0 49.0 C844.0 47.8 846.0 46.7 848.0 45.7 C850.1 44.8 852.2 43.9 854.3 43.2 C856.5 42.4 858.7 41.8 860.9 41.3 C863.1 40.8 865.3 40.4 867.6 40.1 C869.8 39.8 872.1 39.8 874.4 39.6 C876.6 39.4 880.1 39.1 881.2 39.0"/>
    <path d="M748.3 422.7 C749.5 422.9 753.2 423.4 755.5 424.1 C757.9 424.8 760.1 425.9 762.3 426.9 C764.5 428.0 766.7 429.2 768.8 430.5 C770.8 431.8 772.9 433.2 774.8 434.7 C776.7 436.2 778.6 437.8 780.3 439.4 C782.1 441.1 783.8 442.9 785.4 444.8 C786.9 446.6 788.4 448.6 789.8 450.6 C791.2 452.6 792.4 454.7 793.6 456.9 C794.7 459.0 795.8 461.2 796.7 463.5 C797.6 465.7 798.4 468.0 799.1 470.4 C799.8 472.7 800.3 475.1 800.7 477.5 C801.2 479.8 801.5 482.3 801.6 484.7 C801.8 487.1 801.8 489.6 801.8 492.0 C801.7 494.4 801.5 496.8 801.1 499.2 C800.8 501.6 800.3 504.0 799.7 506.4 C799.1 508.8 798.4 511.1 797.6 513.4 C796.7 515.7 795.8 517.9 794.7 520.1 C793.6 522.3 792.4 524.4 791.1 526.5 C789.8 528.5 788.4 530.5 786.9 532.4 C785.4 534.3 783.8 536.2 782.1 537.9 C780.4 539.7 778.6 541.3 776.7 542.9 C774.8 544.5 772.8 545.9 770.8 547.3 C768.8 548.6 766.7 549.9 764.5 551.0 C762.3 552.2 760.1 553.2 757.8 554.1 C755.6 555.0 753.2 555.8 750.9 556.5 C748.5 557.2 746.1 557.7 743.7 558.1 C741.3 558.6 738.8 558.9 736.4 559.0 C734.0 559.2 731.5 559.2 729.0 559.2 C726.6 559.1 724.1 558.9 721.7 558.5 C719.3 558.2 716.9 557.7 714.5 557.1 C712.1 556.5 709.8 555.8 707.5 555.0 C705.2 554.2 702.9 553.2 700.7 552.2 C698.5 551.1 696.3 549.9 694.2 548.6 C692.2 547.3 690.1 545.9 688.2 544.4 C686.3 542.9 684.4 541.3 682.7 539.7 C680.9 538.0 679.2 536.2 677.6 534.3 C676.1 532.5 674.6 530.5 673.2 528.5 C671.8 526.5 670.6 524.4 669.4 522.2 C668.3 520.1 667.2 517.9 666.3 515.6 C665.4 513.4 664.6 511.1 663.9 508.7 C663.2 506.4 662.7 504.0 662.3 501.6 C661.8 499.3 661.5 496.8 661.4 494.4 C661.2 492.0 661.2 489.5 661.2 487.1 C661.3 484.7 661.5 482.3 661.9 479.9 C662.2 477.5 662.7 475.1 663.3 472.7 C663.9 470.3 664.6 468.0 665.4 465.7 C666.3 463.4 667.2 461.2 668.3 459.0 C669.4 456.8 670.6 454.7 671.9 452.6 C673.2 450.6 674.6 448.6 676.1 446.7 C677.6 444.8 679.2 442.9 680.9 441.2 C682.6 439.4 684.4 437.8 686.3 436.2 C688.2 434.6 690.2 433.2 692.2 431.8 C694.2 430.5 696.3 429.2 698.5 428.1 C700.7 426.9 702.9 425.9 705.2 425.0 C707.4 424.1 709.8 423.3 712.1 422.6 C714.5 421.9 716.9 421.4 719.3 421.0 C721.7 420.5 724.2 420.2 726.6 420.1 C729.0 419.9 731.5 419.9 734.0 419.9 C736.4 420.0 738.9 420.2 741.3 420.6 C743.7 420.9 746.1 421.5 748.5 422.0 C750.9 422.4 754.6 423.0 755.9 423.3"/>
    <path d="M758.9 425.6 C760.0 426.1 763.4 427.5 765.6 428.6 C767.7 429.8 769.8 431.1 771.8 432.5 C773.8 433.9 775.8 435.4 777.6 437.0 C779.5 438.6 781.2 440.3 782.9 442.0 C784.6 443.8 786.2 445.7 787.6 447.6 C789.1 449.6 790.5 451.6 791.8 453.7 C793.0 455.8 794.2 457.9 795.2 460.1 C796.2 462.3 797.2 464.6 798.0 466.9 C798.7 469.2 799.2 471.6 799.6 474.0 C800.0 476.4 800.1 478.8 800.2 481.2 C800.3 483.6 800.3 486.0 800.3 488.4 C800.3 490.7 800.3 493.1 800.3 495.5 C800.2 497.9 800.2 500.3 799.9 502.7 C799.6 505.1 799.3 507.5 798.7 509.9 C798.0 512.2 797.2 514.5 796.2 516.8 C795.3 519.0 794.2 521.2 793.0 523.3 C791.8 525.4 790.5 527.5 789.1 529.5 C787.7 531.5 786.2 533.4 784.6 535.2 C782.9 537.1 781.2 538.8 779.4 540.5 C777.7 542.1 775.8 543.7 773.8 545.2 C771.9 546.6 769.8 548.0 767.7 549.3 C765.6 550.5 763.4 551.6 761.2 552.7 C759.0 553.7 756.7 554.6 754.4 555.4 C752.1 556.2 749.7 556.9 747.3 557.4 C744.9 558.0 742.5 558.4 740.1 558.7 C737.6 559.0 735.2 559.1 732.7 559.2 C730.3 559.2 727.8 559.1 725.4 558.9 C722.9 558.7 720.5 558.4 718.1 557.9 C715.7 557.5 713.3 556.9 710.9 556.2 C708.6 555.4 706.3 554.6 704.0 553.7 C701.8 552.7 699.6 551.6 697.4 550.5 C695.3 549.3 693.2 548.0 691.2 546.6 C689.2 545.2 687.2 543.7 685.4 542.1 C683.5 540.5 681.8 538.8 680.1 537.1 C678.4 535.3 676.8 533.4 675.4 531.4 C674.0 529.5 672.7 527.4 671.5 525.3 C670.3 523.2 669.3 520.9 668.3 518.7 C667.4 516.5 666.5 514.3 665.7 512.0 C664.9 509.7 664.1 507.4 663.5 505.1 C662.9 502.8 662.3 500.4 661.9 498.0 C661.5 495.6 661.3 493.2 661.2 490.8 C661.1 488.3 661.3 485.9 661.5 483.5 C661.7 481.1 662.0 478.6 662.5 476.3 C663.0 473.9 663.6 471.5 664.3 469.2 C665.0 466.9 665.8 464.6 666.8 462.3 C667.7 460.1 668.8 457.9 670.0 455.8 C671.2 453.7 672.5 451.6 673.9 449.6 C675.3 447.6 676.8 445.7 678.4 443.9 C680.1 442.0 681.8 440.3 683.6 438.6 C685.3 437.0 687.2 435.3 689.2 433.9 C691.2 432.5 693.3 431.2 695.4 430.1 C697.6 429.0 699.9 428.2 702.2 427.2 C704.4 426.3 706.6 425.4 708.9 424.5 C711.2 423.7 713.4 422.6 715.7 422.0 C718.1 421.3 720.5 420.8 722.9 420.4 C725.4 420.1 727.8 420.0 730.3 419.9 C732.7 419.9 735.2 419.9 737.6 420.2 C740.1 420.4 742.5 420.8 744.8 421.6 C747.1 422.4 749.2 424.0 751.5 424.8 C753.8 425.6 756.3 425.6 758.6 426.4 C760.8 427.2 764.0 429.0 765.1 429.6"/>
    <path d="M901.0 421.8 C902.2 422.1 905.9 422.4 908.3 423.1 C910.7 423.7 912.9 424.7 915.2 425.7 C917.5 426.7 919.7 427.8 921.8 429.1 C924.0 430.3 926.1 431.7 928.1 433.1 C930.1 434.6 932.0 436.1 933.8 437.8 C935.7 439.4 937.4 441.2 939.1 443.0 C940.7 444.8 942.3 446.8 943.7 448.7 C945.2 450.7 946.6 452.8 947.8 455.0 C949.0 457.1 950.2 459.3 951.2 461.5 C952.2 463.8 953.1 466.1 953.8 468.5 C954.6 470.8 955.2 473.2 955.7 475.6 C956.3 478.0 956.7 480.5 956.9 482.9 C957.2 485.4 957.3 487.8 957.3 490.3 C957.3 492.8 957.2 495.2 956.9 497.7 C956.7 500.1 956.3 502.6 955.7 505.0 C955.2 507.4 954.6 509.8 953.8 512.1 C953.1 514.5 952.2 516.8 951.2 519.1 C950.2 521.3 949.0 523.5 947.8 525.6 C946.6 527.8 945.2 529.9 943.7 531.9 C942.3 533.8 940.7 535.8 939.1 537.6 C937.4 539.4 935.7 541.2 933.8 542.8 C932.0 544.5 930.1 546.0 928.1 547.5 C926.1 548.9 924.0 550.3 921.8 551.5 C919.7 552.8 917.5 553.9 915.2 554.9 C912.9 555.9 910.6 556.8 908.3 557.5 C905.9 558.3 903.5 558.9 901.1 559.5 C898.7 560.0 896.2 560.4 893.8 560.6 C891.3 560.9 888.8 561.0 886.3 561.0 C883.9 561.0 881.4 560.9 878.9 560.6 C876.5 560.4 874.0 560.0 871.6 559.5 C869.2 558.9 866.8 558.3 864.4 557.5 C862.1 556.8 859.8 555.9 857.5 554.9 C855.2 553.9 853.0 552.8 850.9 551.5 C848.7 550.3 846.6 548.9 844.6 547.5 C842.6 546.0 840.7 544.5 838.9 542.8 C837.0 541.2 835.3 539.4 833.6 537.6 C832.0 535.8 830.4 533.8 829.0 531.9 C827.5 529.9 826.1 527.8 824.9 525.6 C823.7 523.5 822.5 521.3 821.5 519.1 C820.5 516.8 819.6 514.5 818.9 512.1 C818.1 509.8 817.5 507.4 817.0 505.0 C816.4 502.6 816.0 500.1 815.8 497.7 C815.5 495.2 815.4 492.8 815.4 490.3 C815.4 487.8 815.5 485.4 815.8 482.9 C816.0 480.5 816.4 478.0 817.0 475.6 C817.5 473.2 818.1 470.8 818.9 468.5 C819.6 466.1 820.5 463.8 821.5 461.5 C822.5 459.3 823.7 457.1 824.9 454.9 C826.1 452.8 827.5 450.7 829.0 448.7 C830.4 446.8 832.0 444.8 833.6 443.0 C835.3 441.2 837.0 439.4 838.9 437.8 C840.7 436.1 842.6 434.6 844.6 433.1 C846.6 431.7 848.7 430.3 850.9 429.1 C853.0 427.8 855.2 426.7 857.5 425.7 C859.8 424.7 862.1 423.8 864.4 423.1 C866.8 422.3 869.2 421.7 871.6 421.1 C874.0 420.6 876.5 420.2 878.9 420.0 C881.4 419.7 883.9 419.6 886.3 419.6 C888.8 419.6 891.3 419.7 893.8 420.0 C896.2 420.2 898.6 420.8 901.1 421.1 C903.6 421.5 907.3 422.0 908.6 422.2"/>
    <path d="M911.6 424.7 C912.8 425.1 916.3 426.2 918.6 427.3 C920.8 428.4 922.9 429.7 925.0 431.0 C927.1 432.3 929.1 433.8 931.0 435.4 C932.9 436.9 934.8 438.6 936.5 440.3 C938.3 442.0 939.9 443.9 941.5 445.8 C943.0 447.7 944.5 449.7 945.9 451.8 C947.2 453.9 948.4 456.0 949.6 458.2 C950.7 460.4 951.7 462.7 952.6 465.0 C953.5 467.3 954.2 469.6 954.9 472.0 C955.5 474.4 956.0 476.8 956.4 479.2 C956.8 481.7 957.1 484.1 957.2 486.6 C957.3 489.1 957.3 491.5 957.2 494.0 C957.0 496.5 956.6 498.9 956.1 501.3 C955.7 503.7 955.0 506.1 954.3 508.4 C953.6 510.8 952.8 513.1 951.9 515.4 C951.1 517.7 950.2 519.9 949.1 522.2 C948.1 524.4 947.0 526.6 945.7 528.7 C944.4 530.8 943.0 532.9 941.5 534.8 C940.0 536.7 938.3 538.6 936.5 540.3 C934.8 542.0 932.9 543.7 931.0 545.2 C929.1 546.8 927.0 548.2 924.9 549.4 C922.8 550.7 920.5 551.7 918.2 552.7 C916.0 553.6 913.7 554.4 911.3 555.2 C909.0 555.9 906.7 556.6 904.4 557.2 C902.0 557.9 899.6 558.5 897.3 558.9 C894.9 559.4 892.5 559.9 890.0 560.2 C887.6 560.5 885.1 560.7 882.6 560.7 C880.2 560.7 877.7 560.5 875.3 560.1 C872.8 559.8 870.4 559.2 868.0 558.6 C865.6 558.0 863.2 557.2 860.9 556.3 C858.6 555.4 856.3 554.4 854.1 553.3 C851.9 552.2 849.8 550.9 847.7 549.6 C845.6 548.3 843.6 546.8 841.7 545.2 C839.8 543.7 837.9 542.0 836.2 540.3 C834.4 538.6 832.8 536.7 831.2 534.8 C829.7 532.9 828.2 530.9 826.8 528.8 C825.5 526.7 824.3 524.6 823.1 522.4 C822.0 520.2 821.0 517.9 820.1 515.6 C819.2 513.3 818.5 511.0 817.8 508.6 C817.2 506.2 816.7 503.8 816.3 501.4 C815.9 498.9 815.6 496.5 815.5 494.0 C815.4 491.5 815.4 489.1 815.5 486.6 C815.6 484.1 815.9 481.7 816.3 479.2 C816.7 476.8 817.2 474.4 817.8 472.0 C818.5 469.6 819.2 467.3 820.1 465.0 C821.0 462.7 822.0 460.4 823.1 458.2 C824.3 456.0 825.5 453.9 826.8 451.8 C828.2 449.7 829.6 447.7 831.2 445.8 C832.8 443.9 834.5 442.1 836.3 440.4 C838.1 438.8 840.2 437.4 842.2 435.9 C844.1 434.5 846.2 433.1 848.2 431.7 C850.2 430.3 852.2 428.9 854.3 427.6 C856.4 426.4 858.6 425.2 860.9 424.3 C863.2 423.4 865.6 422.6 868.0 422.0 C870.4 421.4 872.8 420.9 875.3 420.5 C877.7 420.1 880.2 419.8 882.6 419.7 C885.1 419.6 887.6 419.5 890.1 419.7 C892.5 419.9 895.1 420.0 897.4 420.6 C899.8 421.3 902.0 422.9 904.3 423.7 C906.6 424.5 909.0 424.7 911.3 425.5 C913.6 426.2 916.9 427.8 918.1 428.3"/>
  </g>
  <g>
    <text x="48.4" y="195.6" font-size="19" textLength="46.6" lengthAdjust="spacingAndGlyphs">User</text>
    <text x="46.9" y="276.3" font-size="28" textLength="47.3" lengthAdjust="spacingAndGlyphs">Bob</text>
    <text x="299.9" y="200.0" font-size="20" textLength="59.1" lengthAdjust="spacingAndGlyphs">Folder</text>
    <text x="296.4" y="263.9" font-size="28" textLength="67.1" lengthAdjust="spacingAndGlyphs">Bob's</text>
    <text x="302.9" y="294.7" font-size="28" textLength="55.1" lengthAdjust="spacingAndGlyphs">Files</text>
    <text x="530.0" y="137.7" font-size="20" textLength="60.6" lengthAdjust="spacingAndGlyphs">Folder</text>
    <text x="522.9" y="199.6" font-size="28" textLength="66.6" lengthAdjust="spacingAndGlyphs">Bob's</text>
    <text x="537.9" y="229.6" font-size="28" textLength="49.7" lengthAdjust="spacingAndGlyphs">Pics</text>
    <text x="530.4" y="307.7" font-size="20" textLength="61.1" lengthAdjust="spacingAndGlyphs">Folder</text>
    <text x="524.4" y="371.8" font-size="28" textLength="67.6" lengthAdjust="spacingAndGlyphs">Bob's</text>
    <text x="533.9" y="402.1" font-size="28" textLength="60.6" lengthAdjust="spacingAndGlyphs">Docs</text>
    <text x="703.9" y="28.9" font-size="20" textLength="34.2" lengthAdjust="spacingAndGlyphs">File</text>
    <text x="696.4" y="111.3" font-size="25" textLength="52.2" lengthAdjust="spacingAndGlyphs">1.jpg</text>
    <text x="862.4" y="32.7" font-size="20" textLength="34.8" lengthAdjust="spacingAndGlyphs">File</text>
    <text x="851.4" y="111.3" font-size="20" textLength="49.1" lengthAdjust="spacingAndGlyphs">2.jpg</text>
    <text x="740.9" y="411.9" font-size="20" textLength="34.7" lengthAdjust="spacingAndGlyphs">File</text>
    <text x="688.5" y="497.2" font-size="28" textLength="84.5" lengthAdjust="spacingAndGlyphs">CV.pdf</text>
    <text x="892.9" y="409.9" font-size="20" textLength="34.7" lengthAdjust="spacingAndGlyphs">File</text>
    <text x="840.9" y="495.8" font-size="21.5" textLength="90.6" lengthAdjust="spacingAndGlyphs">Data.xml</text>
    <text class="owner" x="169.0" y="273.2" font-size="17" textLength="57.0" lengthAdjust="spacingAndGlyphs">Owner</text>
  </g>
</svg>
</body>
</html>
